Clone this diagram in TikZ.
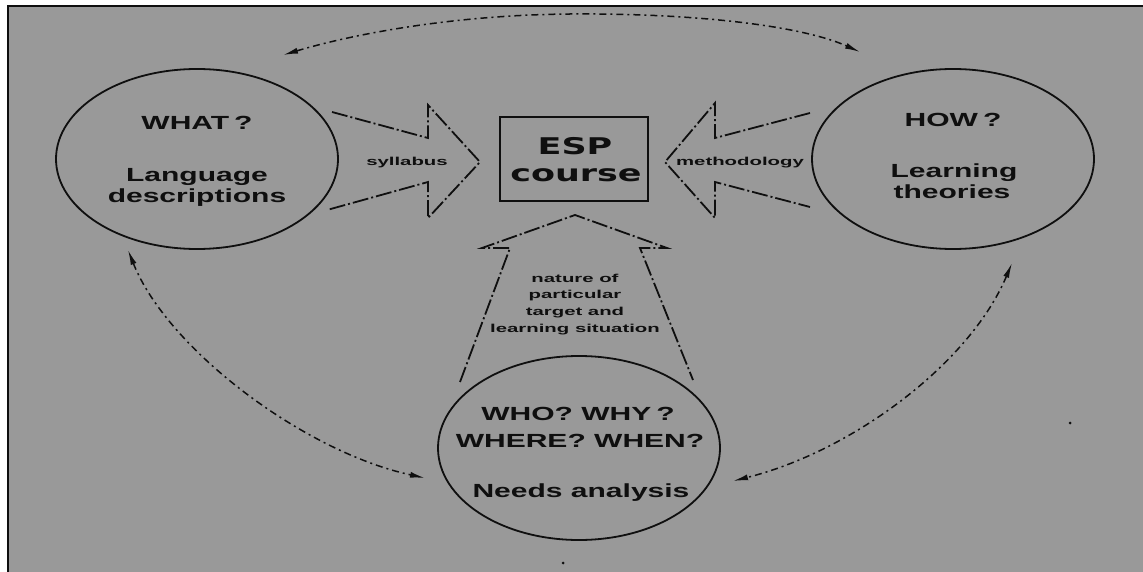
\documentclass[tikz,border=0pt]{standalone}
\usepackage{graphicx}
\usepackage{fontspec}
\setmainfont{Liberation Sans}
\newfontfamily\bubfont{Liberation Sans Bold}
\newfontfamily\espfont{DejaVu Sans Bold}
\newfontfamily\lblfont{Liberation Sans Bold}
\newcommand{\widen}[2]{\scalebox{#1}[1]{#2}}
\usetikzlibrary{shapes.geometric,arrows.meta}
\definecolor{paper}{RGB}{153,153,153}
\definecolor{ink}{RGB}{15,15,15}
\begin{document}
\begin{tikzpicture}[x=1pt,y=-1pt,
  bubble/.style={ellipse,draw=ink,line width=1.8pt,inner sep=0pt,
    minimum width=282pt,minimum height=180pt},
  bubtext/.style={anchor=base,inner sep=0pt,text=ink,
    font=\bubfont\fontsize{19}{21}\selectfont},
  esptext/.style={anchor=base,inner sep=0pt,text=ink,
    font=\espfont\fontsize{23}{25}\selectfont},
  lbl/.style={anchor=base,inner sep=0pt,text=ink,
    font=\lblfont\fontsize{11.5}{16.6}\selectfont},
  fatarrow/.style={draw=ink,line width=1.8pt,line join=miter,
    dash pattern=on 16pt off 3pt on 2pt off 3pt},
  link/.style={draw=ink,line width=1.5pt,
    dash pattern=on 7pt off 4pt on 2pt off 4pt,
    {Latex[length=15pt,width=6pt]}-{Latex[length=15pt,width=6pt]}},
  speck/.style={fill=ink,inner sep=0pt,minimum size=3pt,circle}]

% page and frame
\useasboundingbox (0,0) rectangle (1143,572);
\fill[white] (0,0) rectangle (1143,572);
\fill[paper] (8,6) rectangle (1143,572);
\draw[ink,line width=2pt] (8,572) -- (8,6) -- (1143,6);

% the three questions
\node[bubble] (what) at (197,159) {};
\node[bubble] (how)  at (953,159) {};
\node[bubble,minimum height=184pt] (who) at (579,448) {};

\node[bubtext] (whatq) at (197,130) {\widen{1.58}{WHAT\,?}};
\node[bubtext] (whatl1) at (197,182) {\widen{1.58}{Language}};
\node[bubtext] (whatl2) at (197,203) {\widen{1.58}{descriptions}};

\node[bubtext] (howq) at (953,127) {\widen{1.58}{HOW\,?}};
\node[bubtext] (howl1) at (954,178) {\widen{1.58}{Learning}};
\node[bubtext] (howl2) at (952,199) {\widen{1.58}{theories}};

\node[bubtext] (whoq1) at (578,420) {\widen{1.58}{WHO? WHY\,?}};
\node[bubtext] (whoq2) at (580,447) {\widen{1.58}{WHERE? WHEN?}};
\node[bubtext] (whol) at (581,497) {\widen{1.58}{Needs analysis}};

% the course itself
\node[draw=ink,line width=2.2pt,minimum width=148pt,minimum height=84pt,inner sep=0pt]
  (esp) at (574,159) {};
\node[esptext] (esp1) at (575,155) {\widen{1.52}{ESP}};
\node[esptext] (esp2) at (576,182) {\widen{1.52}{course}};

% broad arrows feeding the course
\draw[fatarrow] (332,112) -- (428,138) -- (428,105) -- (480,162)
  -- (428,218) -- (428,182) -- (327,210);
\draw[fatarrow] (810,113) -- (715,138) -- (715,103) -- (665,162)
  -- (715,218) -- (715,182) -- (810,207);
\draw[fatarrow] (460,382) -- (510,248) -- (482,248) -- (575,215)
  -- (667,248) -- (640,248) -- (693,380);

\node[lbl] (syl) at (407,166) {\widen{1.77}{syllabus}};
\node[lbl] (meth) at (740,166) {\widen{1.77}{methodology}};
\node[lbl] (nat1) at (575,282) {\widen{1.77}{nature of}};
\node[lbl] (nat2) at (575,298.5) {\widen{1.77}{particular}};
\node[lbl] (nat3) at (575,315) {\widen{1.77}{target and}};
\node[lbl] (nat4) at (575,332) {\widen{1.77}{learning situation}};

% links between the questions
\coordinate (tl) at (283,55);
\coordinate (tp) at (570,14);
\coordinate (tr) at (860,52);
\draw[link] (tl) .. controls (350,35) and (450,15) .. (tp)
  .. controls (690,13) and (800,25) .. (tr);

\coordinate (bl1) at (128,250);
\coordinate (bl2) at (425,478);
\draw[link] (bl1) .. controls (168,350) and (305,452) .. (bl2);

\coordinate (br1) at (1012,263);
\coordinate (br2) at (733,481);
\draw[link] (br1) .. controls (970,363) and (853,451) .. (br2);

% stray marks on the sheet
\node[speck] (s1) at (1070,423) {};
\node[speck] (s2) at (563,563) {};
\end{tikzpicture}
\end{document}
